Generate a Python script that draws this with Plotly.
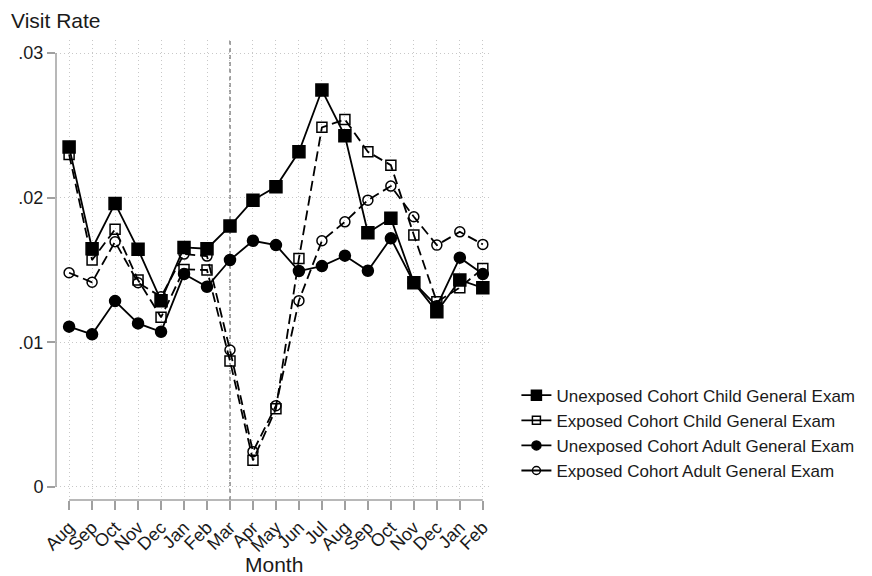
import plotly.graph_objects as go

months = ["Aug", "Sep", "Oct", "Nov", "Dec", "Jan", "Feb", "Mar", "Apr", "May",
          "Jun", "Jul", "Aug", "Sep", "Oct", "Nov", "Dec", "Jan", "Feb"]
unexp_child = [0.0235, 0.01647, 0.0196, 0.01643, 0.01288, 0.01656, 0.01647, 0.01804, 0.01983,
               0.02075, 0.02317, 0.02744, 0.02428, 0.01757, 0.01857, 0.01412, 0.01212, 0.01431, 0.01377]
exp_child = [0.02299, 0.01569, 0.01781, 0.01431, 0.01173, 0.01504, 0.0150, 0.00871, 0.00184,
             0.00541, 0.0158, 0.02486, 0.02541, 0.02317, 0.02225, 0.01742, 0.0128, 0.01378, 0.01511]
unexp_adult = [0.01108, 0.01055, 0.01285, 0.01131, 0.01073, 0.01472, 0.01384, 0.01569, 0.01702,
               0.01672, 0.01493, 0.01527, 0.01599, 0.01495, 0.01719, 0.01412, 0.0125, 0.01585, 0.01472]
exp_adult = [0.01481, 0.01415, 0.01695, 0.01412, 0.01315, 0.0161, 0.01596, 0.00947, 0.00244,
             0.00562, 0.01288, 0.01702, 0.01833, 0.01983, 0.0208, 0.01868, 0.01672, 0.01764, 0.01677]
ytick_vals = [0, 0.01, 0.02, 0.03]
ytick_text = ["0", ".01", ".02", ".03"]
names = ["Unexposed Cohort Child General Exam", "Exposed Cohort Child General Exam",
         "Unexposed Cohort Adult General Exam", "Exposed Cohort Adult General Exam"]

x = list(range(len(months)))
FONT = "Liberation Sans, Arial, sans-serif"
TXT = "#1a1a1a"

fig = go.Figure()
specs = [
    (unexp_child, "solid", "square", 12),
    (exp_child, "10px,5px", "square-open", 10),
    (unexp_adult, "solid", "circle", 11),
    (exp_adult, "10px,5px", "circle-open", 10),
]
for (vals, dash, sym, size), name in zip(specs, names):
    fig.add_trace(go.Scatter(
        x=x, y=vals, mode="lines+markers", name=name, showlegend=False,
        line=dict(color="black", width=1.8, dash=dash),
        marker=dict(symbol=sym, size=size, color="black", line=dict(color="black", width=1.5)),
    ))
# legend entries (solid key lines as in the reference)
for (vals, dash, sym, size), name in zip(specs, names):
    fig.add_trace(go.Scatter(
        x=[None], y=[None], mode="lines+markers", name=name, showlegend=True,
        line=dict(color="black", width=1.8),
        marker=dict(symbol=sym, size=size - 2, color="black", line=dict(color="black", width=1.5)),
    ))

# vertical reference line at Mar
fig.add_shape(type="line", xref="x", yref="paper", x0=7, x1=7, y0=0, y1=1,
              line=dict(color="#808080", width=1.5, dash="4px,3px"), layer="below")
# Stata-style axis lines spanning data range
fig.add_shape(type="line", xref="paper", yref="y", x0=0, x1=0, y0=0, y1=0.03,
              line=dict(color="#a0a0a0", width=1.5))
fig.add_shape(type="line", xref="x", yref="paper", x0=0, x1=len(months) - 1, y0=0, y1=0,
              line=dict(color="#a0a0a0", width=1.5))

fig.update_layout(
    width=872, height=576,
    margin=dict(l=56, r=375, t=40, b=76),
    paper_bgcolor="white", plot_bgcolor="white",
    font=dict(family=FONT, color=TXT),
    showlegend=True,
    legend=dict(x=1.056, y=0.266, xanchor="left", yanchor="top",
                font=dict(size=17, family=FONT, color=TXT),
                bgcolor="rgba(0,0,0,0)"),
    annotations=[
        dict(text="Visit Rate", xref="paper", yref="paper", x=-0.108, y=1.0,
             yshift=20, xanchor="left", yanchor="middle", showarrow=False,
             font=dict(size=21, family=FONT, color=TXT)),
        dict(text="Month", xref="paper", yref="paper", x=0.5, y=0, yshift=-64,
             xanchor="center", yanchor="middle", showarrow=False,
             font=dict(size=21, family=FONT, color=TXT)),
    ],
)
fig.update_xaxes(range=[-0.57, 18.4], tickvals=x, ticktext=months, tickangle=-45,
                 showgrid=True, gridcolor="#c8c8c8", griddash="1px,3px", gridwidth=1,
                 zeroline=False, showline=False, ticks="outside", ticklen=9, tickwidth=1.5,
                 tickcolor="#a0a0a0", tickfont=dict(size=18, family=FONT, color=TXT))
fig.update_yaxes(range=[-0.0009, 0.0309], tickvals=ytick_vals, ticktext=ytick_text,
                 showgrid=True, gridcolor="#c8c8c8", griddash="1px,3px", gridwidth=1,
                 zeroline=False, showline=False, ticks="outside", ticklen=8, tickwidth=1.5,
                 tickcolor="#a0a0a0", tickfont=dict(size=18, family=FONT, color=TXT))

fig.write_html("out.html", config={"displayModeBar": False},
               post_script="document.body.style.margin='0px';document.body.style.overflow='hidden';")
